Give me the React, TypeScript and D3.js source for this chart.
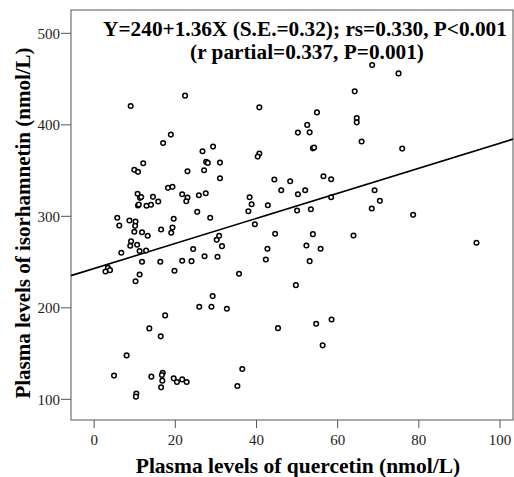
import React from "react";
import * as d3 from "d3";

const quercetin = [22.4, 9.0, 18.9, 17.0, 26.7, 29.3, 12.1, 9.9, 10.8, 27.6, 28.0, 31.0, 23.0, 27.1, 31.0, 18.2, 19.3, 10.7, 11.3, 11.6, 14.5, 21.7, 23.0, 22.7, 25.8, 27.5, 15.8, 10.8, 11.0, 12.9, 14.0, 25.4, 28.6, 5.7, 6.2, 8.7, 10.2, 10.1, 19.6, 19.3, 16.5, 19.0, 9.9, 11.8, 13.2, 9.1, 8.9, 10.6, 24.4, 30.2, 30.8, 11.2, 12.8, 6.7, 31.5, 3.4, 2.8, 3.9, 11.8, 16.3, 21.7, 24.0, 27.2, 30.4, 19.8, 11.2, 10.2, 29.2, 25.9, 28.9, 17.5, 13.6, 16.4, 8.0, 4.9, 14.1, 16.9, 16.7, 16.8, 16.5, 19.6, 20.4, 21.7, 22.8, 10.4, 10.3, 64.2, 40.7, 54.9, 64.7, 64.7, 52.5, 50.2, 53.1, 65.9, 40.7, 40.3, 53.9, 54.2, 44.4, 48.3, 56.5, 58.4, 46.1, 52.0, 50.2, 38.3, 38.8, 38.0, 42.8, 50.0, 53.4, 58.4, 39.6, 44.6, 53.9, 63.9, 52.3, 55.8, 42.7, 42.3, 53.1, 35.7, 49.7, 32.7, 45.3, 54.7, 58.5, 56.3, 36.5, 35.3, 75.9, 69.1, 70.4, 68.4, 78.6, 94.2, 68.5, 75.0];

const isorhamnetin = [431.9, 420.6, 389.3, 380.2, 371.1, 376.2, 358.0, 350.8, 348.6, 359.5, 358.4, 358.7, 349.2, 350.3, 341.6, 331.1, 332.2, 324.6, 320.2, 321.1, 321.3, 324.1, 320.5, 316.5, 323.0, 325.2, 316.2, 311.8, 312.9, 311.5, 312.6, 304.9, 298.4, 298.4, 290.0, 295.4, 294.3, 289.6, 297.3, 287.8, 285.6, 282.0, 283.1, 282.6, 278.7, 272.8, 267.8, 268.9, 264.3, 274.3, 278.7, 262.1, 262.7, 260.2, 267.4, 243.8, 239.7, 241.2, 250.3, 250.3, 251.4, 251.0, 256.4, 255.8, 240.5, 236.5, 229.1, 212.8, 201.2, 201.2, 191.7, 177.5, 168.8, 148.0, 125.9, 124.8, 129.1, 126.5, 120.4, 113.1, 122.9, 118.9, 121.8, 118.9, 106.2, 102.9, 436.6, 419.1, 413.6, 407.5, 402.7, 399.9, 391.5, 391.8, 381.7, 368.6, 365.3, 374.3, 375.1, 340.2, 338.3, 343.8, 340.5, 328.5, 328.5, 324.1, 320.9, 313.2, 305.6, 312.1, 306.3, 307.8, 320.9, 291.4, 280.9, 280.5, 279.0, 268.1, 264.5, 264.5, 252.8, 251.0, 237.2, 224.8, 199.0, 177.8, 182.6, 187.3, 159.0, 133.1, 114.5, 374.0, 328.5, 316.9, 308.5, 301.6, 271.1, 465.4, 456.2];

const xTicks = [0, 20, 40, 60, 80, 100];
const yTicks = [100, 200, 300, 400, 500];
const fitIntercept = 243;
const fitSlope = 1.37;
const annotationLines = [
  "Y=240+1.36X (S.E.=0.32); rs=0.330, P<0.001",
  "(r partial=0.337, P=0.001)",
];
const xTitle = "Plasma levels of quercetin (nmol/L)";
const yTitle = "Plasma levels of isorhamnetin (nmol/L)";

export default function App() {
  const W = 514, H = 477;
  const left = 71, right = 513, top = 10, bottom = 420;
  const x = d3.scaleLinear().domain([-5.7, 103.2]).range([left, right]);
  const y = d3.scaleLinear().domain([77.4, 525.5]).range([bottom, top]);
  const n = Math.min(quercetin.length, isorhamnetin.length);
  const pts = d3.range(n).map((i) => [quercetin[i], isorhamnetin[i]]);
  const xd = x.domain();
  const line = d3.line<number>().x((v) => x(v)).y((v) => y(fitIntercept + fitSlope * v));
  const font = "'Liberation Serif', 'Times New Roman', serif";
  const axisColor = "#555";

  return (
    <svg width={W} height={H} style={{ position: "absolute", left: 0, top: 0, background: "#fff" }}>
      <rect x={0} y={0} width={W} height={H} fill="#fff" />
      <rect x={left} y={top} width={right - left} height={bottom - top} fill="none" stroke={axisColor} strokeWidth={1} />
      {yTicks.map((t) => (
        <g key={"y" + t}>
          <line x1={left - 10} x2={left} y1={y(t)} y2={y(t)} stroke={axisColor} strokeWidth={1} />
          <text x={left - 11} y={y(t)} dy="0.35em" textAnchor="end" fontFamily={font} fontSize={15} fill="#222">{t}</text>
        </g>
      ))}
      {xTicks.map((t) => (
        <g key={"x" + t}>
          <line x1={x(t)} x2={x(t)} y1={bottom} y2={bottom + 8} stroke={axisColor} strokeWidth={1} />
          <text x={x(t)} y={bottom + 25} textAnchor="middle" fontFamily={font} fontSize={15} fill="#222">{t}</text>
        </g>
      ))}
      <path d={line(xd as number[]) || ""} fill="none" stroke="#000" strokeWidth={1.6} />
      {pts.map((p, i) => (
        <circle key={i} cx={x(p[0])} cy={y(p[1])} r={2.3} fill="#fff" stroke="#000" strokeWidth={1.5} />
      ))}
      <text x={305} y={36} textAnchor="middle" fontFamily={font} fontWeight="bold" fontSize={21.3} fill="#000">{annotationLines[0]}</text>
      <text x={307} y={59} textAnchor="middle" fontFamily={font} fontWeight="bold" fontSize={21.3} fill="#000">{annotationLines[1]}</text>
      <text x={298} y={473} textAnchor="middle" fontFamily={font} fontWeight="bold" fontSize={21.5} fill="#000">{xTitle}</text>
      <text transform={`translate(30, 223) rotate(-90)`} textAnchor="middle" fontFamily={font} fontWeight="bold" fontSize={21} fill="#000">{yTitle}</text>
    </svg>
  );
}
